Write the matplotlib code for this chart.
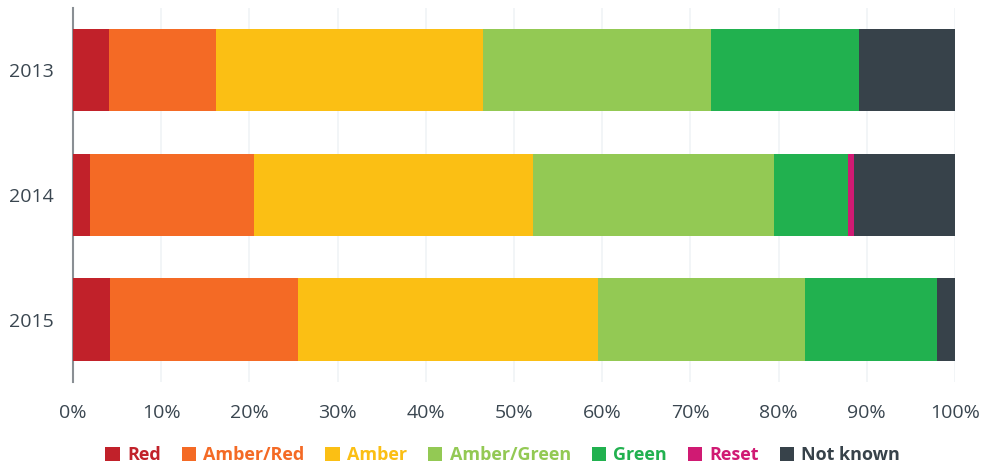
import matplotlib.pyplot as plt
from matplotlib.patches import Patch
from matplotlib.ticker import PercentFormatter

plt.rcParams['font.family'] = ['Open Sans', 'DejaVu Sans']

years = ['2013', '2014', '2015']
categories = ['Red', 'Amber/Red', 'Amber', 'Amber/Green', 'Green', 'Reset', 'Not known']
colors = ['#c1212a', '#f46a25', '#fbbf14', '#93c954', '#21b14f', '#d01a73', '#37424a']

red = [4.1, 1.9, 4.2]
amber_red = [12.1, 18.6, 21.3]
amber = [30.3, 31.7, 34.0]
amber_green = [25.8, 27.3, 23.5]
green = [16.8, 8.4, 15.0]
reset = [0.0, 0.6, 0.0]
not_known = [10.9, 11.5, 2.0]

series = [red, amber_red, amber, amber_green, green, reset, not_known]

fig = plt.figure(figsize=(9.84, 4.68), dpi=100)
ax = fig.add_axes([0.0742, 0.184, 0.8963, 0.799])

left = [0.0] * len(years)
for vals, col in zip(series, colors):
    ax.barh(years, vals, left=left, height=0.66, color=col, linewidth=0, zorder=3)
    left = [l + v for l, v in zip(left, vals)]

ax.set_xlim(0, 100)
ax.set_ylim(2.5, -0.5)
ax.xaxis.set_major_formatter(PercentFormatter(decimals=0))
ax.set_xticks(range(0, 101, 10))
ax.grid(axis='x', color='#f0f3f6', linewidth=1.2, zorder=0)
for s in ['top', 'right', 'bottom']:
    ax.spines[s].set_visible(False)
ax.spines['left'].set_color('#8a8f94')
ax.spines['left'].set_linewidth(1.5)
ax.tick_params(axis='both', length=0, labelsize=14, colors='#3a4650')
ax.tick_params(axis='x', pad=16)
ax.tick_params(axis='y', pad=14)

handles = [Patch(facecolor=c, edgecolor='none') for c in colors]
leg = fig.legend(handles, categories, loc='center', bbox_to_anchor=(0.511, 0.027),
                 ncol=7, frameon=False, handlelength=0.8, handleheight=0.8,
                 handletextpad=0.4, columnspacing=1.15,
                 prop={'size': 13, 'weight': 'bold'})
for txt, c in zip(leg.get_texts(), colors):
    txt.set_color(c)

fig.savefig('out.png', dpi=100)
